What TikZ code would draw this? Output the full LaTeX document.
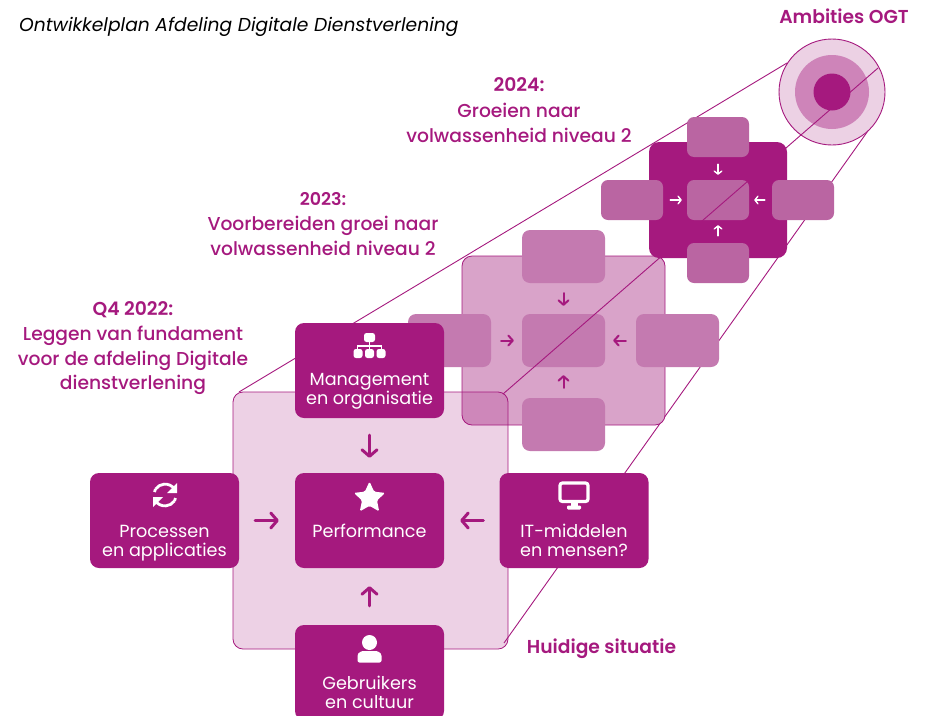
\documentclass[tikz,border=0pt]{standalone}
\usepackage{fontspec}
\setmainfont{Poppins}
\newfontfamily\semifont{Poppins SemiBold}
\newfontfamily\medfont{Poppins Medium}
\usetikzlibrary{arrows.meta,shapes.geometric}
\definecolor{paars}{HTML}{A5197E}
\definecolor{paarsa}{HTML}{C47AB0}
\definecolor{paarsb}{HTML}{BA65A2}
\definecolor{paarsc}{HTML}{D9A3C9}
\definecolor{paarsd}{HTML}{ECD1E4}
\definecolor{paarse}{HTML}{CE84B9}
\begin{document}
\begin{tikzpicture}[x=1pt,y=-1pt,
    ele/.style={rounded corners=9pt,minimum width=149pt,minimum height=95pt,fill=paars,inner sep=0pt},
    ela/.style={rounded corners=8pt,minimum width=83pt,minimum height=53pt,fill=paarsa,inner sep=0pt},
    elb/.style={rounded corners=7pt,minimum width=62pt,minimum height=40pt,fill=paarsb,inner sep=0pt},
    vlak/.style={rounded corners=10pt,inner sep=0pt,draw=paars,line width=.8pt},
    ring/.style={circle,inner sep=0pt},
    lijn/.style={draw=paars,line width=.9pt},
    pijl/.style={draw=paars,line width=3pt,line cap=round,-{Straight Barb[length=6.5pt,width=15pt,round]}},
    pijla/.style={draw=paars,line width=2pt,line cap=round,-{Straight Barb[length=4.5pt,width=10pt,round]}},
    pijlb/.style={draw=white,line width=1.4pt,line cap=round,-{Straight Barb[length=3pt,width=7.5pt,round]}},
    txt/.style={font=\fontsize{17.6}{19.5}\selectfont,text=white,align=center,inner sep=0pt},
    kop/.style={font=\fontsize{18.7}{25.4}\medfont,text=paars,align=center,inner sep=0pt},
    ico/.style={fill=white,draw=none}]
  \clip (0,0) rectangle (925,715);

  % hulplijnen
  \coordinate (l1) at (239,392);
  \coordinate (l2) at (787,63);
  \coordinate (r1) at (504,643);
  \coordinate (r2) at (870,128);
  \coordinate (m1) at (503,394);
  \coordinate (m2) at (878,68);
  \draw[lijn] (l1) -- (l2);
  \draw[lijn] (r1) -- (r2);

  % ambities
  \node[ring,fill=paarsd,draw=paars,line width=.9pt,minimum size=106pt] (c1) at (832,92) {};
  \node[ring,fill=paarse,minimum size=74pt] (c2) at (832,92) {};
  \node[ring,fill=paars,minimum size=37pt] (c3) at (832,92) {};

  % 2023
  \node[vlak,fill=paarsc,minimum width=203pt,minimum height=169pt] (v1) at (563.5,340.5) {};
  \node[ela] (a1) at (563.5,256.5) {};
  \node[ela] (a2) at (449.5,340.5) {};
  \node[ela] (a3) at (563.5,340.5) {};
  \node[ela] (a4) at (677.5,340.5) {};
  \node[ela] (a5) at (563.5,424.5) {};
  \draw[pijla,shorten <=10pt,shorten >=8pt] (a1) -- (a3);
  \draw[pijla,shorten <=10pt,shorten >=8pt] (a2) -- (a3);
  \draw[pijla,shorten <=10pt,shorten >=8pt] (a4) -- (a3);
  \draw[pijla,shorten <=10pt,shorten >=8pt] (a5) -- (a3);

  % 2024
  \node[vlak,draw=none,fill=paars,minimum width=138pt,minimum height=116pt] (v2) at (718,200) {};
  \node[elb] (b1) at (718,137) {};
  \node[elb] (b2) at (632,200) {};
  \node[elb] (b3) at (718,200) {};
  \node[elb] (b4) at (803,200) {};
  \node[elb] (b5) at (718,263) {};
  \draw[pijlb,shorten <=7pt,shorten >=5pt] (b1) -- (b3);
  \draw[pijlb,shorten <=7pt,shorten >=5pt] (b2) -- (b3);
  \draw[pijlb,shorten <=7pt,shorten >=5pt] (b4) -- (b3);
  \draw[pijlb,shorten <=7pt,shorten >=5pt] (b5) -- (b3);

  \draw[lijn] (m1) -- (m2);

  % huidige situatie
  \node[vlak,fill=paars,fill opacity=.2,minimum width=275pt,minimum height=257pt] (v0) at (370.5,520.5) {};
  \node[ele] (e1) at (369.5,370.5) {};
  \node[ele] (e2) at (164.5,520.5) {};
  \node[ele] (e3) at (369.5,520.5) {};
  \node[ele] (e4) at (574,520.5) {};
  \node[ele] (e5) at (369.5,672.5) {};
  \draw[pijl,shorten <=17pt,shorten >=15pt] (e1) -- (e3);
  \draw[pijl,shorten <=16pt,shorten >=16pt] (e2) -- (e3);
  \draw[pijl,shorten <=16pt,shorten >=16pt] (e4) -- (e3);
  \draw[pijl,shorten <=19pt,shorten >=18pt] (e5) -- (e3);

  \node[txt] (t1) at (369.5,391.5) {Management\\en organisatie};
  \node[txt] (t2) at (164.5,543) {Processen\\en applicaties};
  \node[txt] (t3) at (369.5,530.5) {Performance};
  \node[txt] (t4) at (574,540.5) {IT-middelen\\en mensen?};
  \node[txt] (t5) at (369.5,692.5) {Gebruikers\\en cultuur};

  % iconen
  \begin{scope}[shift={(369.5,346)}]
    \draw[white,line width=1.3pt] (0,-6) -- (0,0) (-12,7) -- (-12,0) -- (12,0) -- (12,7) (0,0) -- (0,7);
    \fill[ico,rounded corners=2.5pt] (-5.5,-13) rectangle (5.5,-4);
    \fill[ico,rounded corners=2.5pt] (-16,3) rectangle (-7,12);
    \fill[ico,rounded corners=2.5pt] (-4.5,3) rectangle (4.5,12);
    \fill[ico,rounded corners=2.5pt] (7,3) rectangle (16,12);
  \end{scope}
  \begin{scope}[shift={(165,495)}]
    \draw[white,line width=2.8pt] (9.5,-6) arc (-35:-145:11.5) ;
    \draw[white,line width=2.8pt] (-9.5,6) arc (145:35:11.5);
    \draw[white,line width=2.8pt] (-9.5,-6) -- (-10.5,-3);
    \draw[white,line width=2.8pt] (9.5,6) -- (10.5,3);
    \fill[ico] (12,-12) -- (12,-2) -- (2,-2) -- cycle;
    \fill[ico] (-12,12) -- (-12,2) -- (-2,2) -- cycle;
  \end{scope}
  \node[star,star points=5,star point ratio=2.1,fill=white,minimum size=33pt,inner sep=0pt,rounded corners=1.5pt] (s3) at (369.5,498) {};
  \begin{scope}[shift={(574,495)}]
    \draw[white,line width=3.2pt,rounded corners=2.5pt] (-14,-12) rectangle (14,6.5);
    \fill[ico,rounded corners=1.2pt] (-7,10.5) rectangle (7,14.5);
    \fill[ico] (-3.5,6) rectangle (3.5,12);
  \end{scope}
  \begin{scope}[shift={(369.5,649)}]
    \fill[ico] (0,-6.5) circle (7.5pt);
    \fill[ico,rounded corners=2pt] (-12,13.5) -- (-12,9) .. controls (-12,3) and (-7,2) .. (-4,2) -- (4,2) .. controls (7,2) and (12,3) .. (12,9) -- (12,13.5) -- cycle;
  \end{scope}

  % koppen
  \node[anchor=west,inner sep=0pt,font=\fontsize{18.7}{20}\selectfont\itshape] (titel) at (19,26.5) {Ontwikkelplan Afdeling Digitale Dienstverlening};
  \node[inner sep=0pt,font=\fontsize{18.7}{20}\semifont,text=paars] (k0) at (844,16.5) {Ambities OGT};
  \node[kop] (k1) at (519,110.5) {{\semifont 2024:}\\Groeien naar\\volwassenheid niveau 2};
  \node[kop,font=\fontsize{18.7}{25.1}\medfont] (k2) at (323,224) {{\semifont\fontsize{17.5}{25.1}\selectfont 2023:}\\Voorbereiden groei naar\\volwassenheid niveau 2};
  \node[kop,font=\fontsize{18.7}{24.7}\medfont] (k3) at (133,348.5) {{\semifont Q4 2022:}\\Leggen van fundament\\voor de afdeling Digitale\\dienstverlening};
  \node[inner sep=0pt,font=\fontsize{18.7}{20}\semifont,text=paars] (k4) at (601.5,649) {Huidige situatie};
\end{tikzpicture}
\end{document}
